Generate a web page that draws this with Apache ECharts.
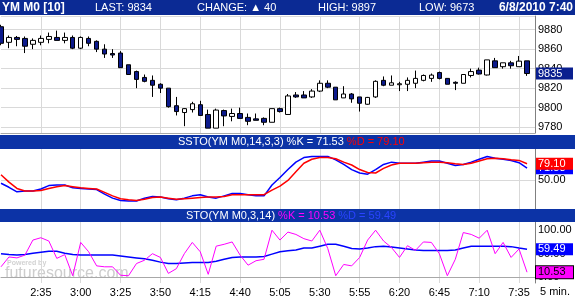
<!DOCTYPE html>
<html><head><meta charset="utf-8">
<script src="https://cdn.jsdelivr.net/npm/echarts@6/dist/echarts.min.js"></script>
<style>html,body{margin:0;padding:0;background:#fff}#c{width:575px;height:300px}</style>
</head><body><div id="c"></div>
<script>
const symbol = 'YM M0 [10]';
const lastPrice = 9834;
const change = 40;
const dayHigh = 9897;
const dayLow = 9673;
const stamp = '6/8/2010 7:40';
const barLabel = '5 min.';

const times = ['2:10','2:15','2:20','2:25','2:30','2:35','2:40','2:45','2:50','2:55',
'3:00','3:05','3:10','3:15','3:20','3:25','3:30','3:35','3:40','3:45','3:50','3:55',
'4:00','4:05','4:10','4:15','4:20','4:25','4:30','4:35','4:40','4:45','4:50','4:55',
'5:00','5:05','5:10','5:15','5:20','5:25','5:30','5:35','5:40','5:45','5:50','5:55',
'6:00','6:05','6:10','6:15','6:20','6:25','6:30','6:35','6:40','6:45','6:50','6:55',
'7:00','7:05','7:10','7:15','7:20','7:25','7:30','7:35','7:40'];

const opens = [9883,9867,9872,9871,9865,9867,9870,9872,9869,9872, 9861,9871,9868,9860,9855.5,9856,9844,9837,9831,9828, 9824,9820,9802,9795,9798,9803,9793,9779,9797,9791, 9794,9790,9788.5,9789,9785,9799,9793,9813,9813,9811, 9817,9825,9821,9810,9814,9811,9803.5,9811,9828,9823, 9823.5,9824,9825,9828,9830,9836,9830,9826,9825,9833, 9838.5,9833.5,9848,9842,9846,9842,9848];
const closes = [9866,9872,9870,9863,9869,9871,9873,9869,9872,9861, 9872,9866,9860,9855,9854,9841,9834,9829,9827,9823, 9820,9801,9796,9799,9804,9792,9779,9797.5,9791.5,9794, 9789,9786,9787,9785,9799,9796,9812,9811,9810,9817, 9825,9821,9808,9814,9809,9804.5,9810.5,9827,9823,9825.5, 9824.5,9828,9830,9833,9833.4,9830,9824,9825,9834,9837, 9834.5,9849,9841,9846,9843,9847.7,9835];
const lows = [9864,9861,9863,9856,9860,9864,9866,9869,9866,9860, 9860,9863,9857,9851,9851,9841,9834,9820,9826,9811, 9815,9800,9792,9781,9795,9792,9779,9779,9781,9786, 9789,9782,9787,9782,9785,9795,9793,9810,9810,9810, 9816,9820,9808,9810,9805,9796,9803,9810,9822,9823, 9817,9817,9820,9827,9826.5,9829,9824,9818,9825,9831, 9834,9833,9841,9840,9840,9842,9832.6];
const highs = [9885,9874,9873.5,9873,9871,9874,9877,9879,9877,9874, 9873,9873,9869,9865,9860,9858,9844,9838,9834,9833, 9825,9820,9811,9799.5,9806,9807,9798,9799,9798,9799, 9800,9794,9794,9790,9799,9800,9814,9816,9817,9819, 9828,9828,9821,9822,9815,9811,9811,9828,9832,9833, 9826.5,9831,9838,9834,9835,9837,9830,9827,9834,9840, 9841,9849,9851,9846,9848,9853,9848];

const sstoK = [45,38,30,31.5,31.5,35,41,42,42,37, 36,35,34,26,19,15,14,14,19,22, 21,18,16,19,23,25,21,19,23,27, 27,25,23,23,42,55,69,82,90,92, 92,92,86,78,69,63,61,69,78,82, 80,80,80,82,84,84,80,76,78,82, 87,92,89,87,85,81,71.53];
const sstoD = [60,47,36,31.5,31.5,32.5,36,39,41,39, 37,36,35,29,23,18,16,15,17,20, 21,19,17,18,19,20,21,21,22,25, 25,25,25,25,33,40,50,65,80,87, 90,90,88,82,77,69,64,63,71,77, 80,80,80,81,82,82,81,79,78,80, 84,88,89,88,86,85,79.10];
const stoK = [22,43,41,47,79,84,77,40,48,3, 74,54,24,22,22,4,3,29,36,50, 42,8,18,50,74,54,6,66,70,75, 47,25.5,35,38,100,79,96,91,82,77, 100,61,3,27,24,42,79,100,77,63, 42,67,57,75,74,50,3,38,95,91, 83,100,50,74,42,60,10.53];
const stoD = [50,48,47,48,51,53,55,55,51,48, 47,47,47,47,47,45,43,41,39,36, 32,29,29,30,31,31,31,34,38,42, 43,43,43,44,49,54,56,58,62,62, 66,70,70,66,61,60,62,65,66,64, 62,60,58,57,57,57,57,58,62,66, 66,66,66,66,65,62,59.49];

const sstoLevels = [50];
const stoLevels = [0, 50, 100];

const FONT = '"Liberation Sans", Arial, sans-serif';
const GRID_COLOR = '#d9d9d9';
const BAR_BLUE = '#0c33a6';
const HEAD_BLUE = '#0b2a94';
const DOWN_FILL = '#0c1a8c';

const cats = times.concat(['']);
const last = a => a[a.length - 1];
const candleData = opens.map((o, i) => [o, closes[i], lows[i], highs[i]]);
const tickIdx = (i) => i > 0 && i % 5 === 0;

function xAxis(k) {
  return {
    type: 'category', gridIndex: k, data: cats, boundaryGap: false,
    axisLine: {show: true, lineStyle: {color: '#a8a8a8', width: 1}},
    axisTick: {show: false},
    axisLabel: {show: k === 2, interval: tickIdx, color: '#000', fontSize: 11, fontFamily: FONT, margin: 4},
    splitLine: {show: true, interval: tickIdx, lineStyle: {color: GRID_COLOR, width: 1}}
  };
}

function valueMark(v, bg, fg, border, digits) {
  return {
    silent: true, symbol: 'none', animation: false,
    lineStyle: {color: 'rgba(0,0,0,0)', width: 0},
    label: {
      show: true, position: 'end', distance: 1, formatter: () => v.toFixed(digits),
      backgroundColor: bg, color: fg, fontSize: 11, fontFamily: FONT, lineHeight: 11,
      padding: [1, 2, 0, 2], width: 33, align: 'left', verticalAlign: 'middle',
      borderColor: border || bg, borderWidth: border ? 1 : 0
    },
    data: [{yAxis: v}]
  };
}

const chart = echarts.init(document.getElementById('c'), null, {renderer: 'canvas'});
chart.setOption({
  animation: false,
  backgroundColor: '#fff',
  grid: [
    {left: 1, right: 40, top: 16, height: 117},
    {left: 1, right: 40, top: 149, height: 60},
    {left: 1, right: 40, top: 222, height: 61}
  ],
  xAxis: [xAxis(0), xAxis(1), xAxis(2)],
  yAxis: [
    {type: 'value', gridIndex: 0, position: 'right', min: 9774, max: 9894, splitNumber: 6,
     axisLine: {show: true, lineStyle: {color: '#808080'}}, axisTick: {show: false},
     axisLabel: {showMinLabel: false, showMaxLabel: false, color: '#000', fontSize: 11, fontFamily: FONT, margin: 3,
       formatter: v => String(v)},
     splitLine: {show: true, lineStyle: {color: GRID_COLOR}}},
    {type: 'value', gridIndex: 1, position: 'right', min: 0, max: 105, splitNumber: 2,
     axisLine: {show: true, lineStyle: {color: '#808080'}}, axisTick: {show: false},
     axisLabel: {color: '#000', fontSize: 11, fontFamily: FONT, margin: 3,
       formatter: v => sstoLevels.includes(v) ? v.toFixed(2) : ''},
     splitLine: {show: false}},
    {type: 'value', gridIndex: 2, position: 'right', min: -12.5, max: 117.5, splitNumber: 3,
     axisLine: {show: true, lineStyle: {color: '#808080'}}, axisTick: {show: false},
     axisLabel: {color: '#000', fontSize: 11, fontFamily: FONT, margin: 3,
       formatter: v => stoLevels.includes(v) ? v.toFixed(2) : ''},
     splitLine: {show: false}}
  ],
  series: [
    {type: 'line', xAxisIndex: 1, yAxisIndex: 1, data: sstoK.map(() => null), symbol: 'none', z: 1,
     markLine: {silent: true, symbol: 'none', z: 1, label: {show: false}, animation: false,
       lineStyle: {color: GRID_COLOR, type: 'solid', width: 1},
       data: sstoLevels.map(v => ({yAxis: v}))}},
    {type: 'candlestick', xAxisIndex: 0, yAxisIndex: 0, data: candleData, barWidth: 5,
     itemStyle: {color: '#ffffff', color0: DOWN_FILL, borderColor: '#000', borderColor0: '#000', borderWidth: 1},
     markLine: valueMark(last(closes), '#0a1f8f', '#fff', null, 0)},
    {type: 'line', xAxisIndex: 1, yAxisIndex: 1, data: sstoK, symbol: 'none', z: 3,
     lineStyle: {color: '#0000ff', width: 1.5},
     markLine: valueMark(last(sstoK), '#0000ff', '#fff', null, 2)},
    {type: 'line', xAxisIndex: 1, yAxisIndex: 1, data: sstoD, symbol: 'none', z: 3,
     lineStyle: {color: '#ff0000', width: 1.5},
     markLine: valueMark(last(sstoD), '#ff0000', '#fff', null, 2)},
    {type: 'line', xAxisIndex: 2, yAxisIndex: 2, data: stoD, symbol: 'none', z: 3,
     lineStyle: {color: '#0000ff', width: 1.5},
     markLine: valueMark(last(stoD), '#0000ff', '#fff', null, 2)},
    {type: 'line', xAxisIndex: 2, yAxisIndex: 2, data: stoK, symbol: 'none', z: 3,
     lineStyle: {color: '#ff00ff', width: 1},
     markLine: valueMark(last(stoK), '#ff00ff', '#000', '#000', 2)}
  ],
  graphic: [
    {type: 'rect', shape: {x: 0, y: 0, width: 575, height: 15}, style: {fill: HEAD_BLUE}, z: 10},
    {type: 'text', x: 2, y: 8, z: 11, style: {text: symbol, fill: '#fff', font: 'bold 12px ' + FONT, textVerticalAlign: 'middle'}},
    {type: 'text', x: 95, y: 8, z: 11, style: {text: 'LAST: ' + lastPrice, fill: '#fff', font: '11px ' + FONT, textVerticalAlign: 'middle'}},
    {type: 'text', x: 197, y: 8, z: 11, style: {text: 'CHANGE: \u25B2 ' + change, fill: '#fff', font: '11px ' + FONT, textVerticalAlign: 'middle'}},
    {type: 'text', x: 318, y: 8, z: 11, style: {text: 'HIGH: ' + dayHigh, fill: '#fff', font: '11px ' + FONT, textVerticalAlign: 'middle'}},
    {type: 'text', x: 419, y: 8, z: 11, style: {text: 'LOW: ' + dayLow, fill: '#fff', font: '11px ' + FONT, textVerticalAlign: 'middle'}},
    {type: 'text', x: 573, y: 8, z: 11, style: {text: stamp, fill: '#fff', font: 'bold 12px ' + FONT, textAlign: 'right', textVerticalAlign: 'middle'}},

    {type: 'rect', shape: {x: 0, y: 135, width: 575, height: 14}, style: {fill: BAR_BLUE}, z: 10},
    {type: 'text', x: 178, y: 142, z: 11, style: {
      text: '{w|SSTO(YM M0,14,3,3) %K = ' + last(sstoK).toFixed(2) + '} {r|%D = ' + last(sstoD).toFixed(2) + '}',
      font: '11px ' + FONT, textVerticalAlign: 'middle',
      rich: {w: {fill: '#fff', font: '11px ' + FONT}, r: {fill: '#ff0000', font: '11px ' + FONT}}}},

    {type: 'rect', shape: {x: 0, y: 209, width: 575, height: 13}, style: {fill: BAR_BLUE}, z: 10},
    {type: 'text', x: 186, y: 215.5, z: 11, style: {
      text: '{w|STO(YM M0,3,14)} {m|%K = ' + last(stoK).toFixed(2) + '} {b|%D = ' + last(stoD).toFixed(2) + '}',
      font: '11px ' + FONT, textVerticalAlign: 'middle',
      rich: {w: {fill: '#fff', font: '11px ' + FONT}, m: {fill: '#ff00ff', font: '11px ' + FONT}, b: {fill: '#2a44ff', font: '11px ' + FONT}}}},

    {type: 'text', x: 7, y: 263.5, z: 0, style: {text: 'Powered by', fill: '#d2d2d2', font: 'bold 7px ' + FONT, textVerticalAlign: 'middle'}},
    {type: 'text', x: 5, y: 274, z: 0, style: {text: 'futuresource.com', fill: '#cdcdcd', font: '16px ' + FONT, textVerticalAlign: 'middle'}},
    {type: 'text', x: 540, y: 292, z: 11, style: {text: barLabel, fill: '#000', font: '11px ' + FONT, textVerticalAlign: 'middle'}}
  ]
});
</script></body></html>
